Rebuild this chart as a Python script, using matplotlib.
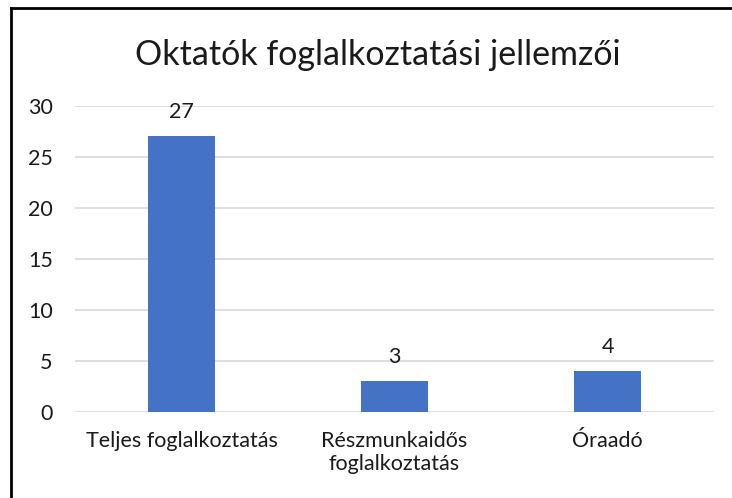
import matplotlib.pyplot as plt
from matplotlib.lines import Line2D

# adatok
categories = ['Teljes foglalkoztatás', 'Részmunkaidős\nfoglalkoztatás', 'Óraadó']
values = [27, 3, 4]
yticks = [0, 5, 10, 15, 20, 25, 30]
title = 'Oktatók foglalkoztatási jellemzői'

plt.rcParams['font.family'] = ['Lato', 'DejaVu Sans']
txt = '#1a1a1a'
fs = 15.5

fig = plt.figure(figsize=(7.32, 4.98), dpi=100)
ax = fig.add_axes([75 / 732, 1 - 411.7 / 498, 639 / 732, 306 / 498])

x = range(len(categories))
bars = ax.bar(x, values, width=0.31, color='#4472C4', zorder=3)
ax.bar_label(bars, labels=[str(v) for v in values], padding=10, fontsize=fs, color=txt)

ax.set_xlim(-0.5, 2.5)
ax.set_ylim(0, 30)
ax.set_yticks(yticks)
ax.set_xticks(list(x))
ax.set_xticklabels(categories, fontsize=fs, color=txt, linespacing=1.15)
ax.tick_params(axis='y', length=0, pad=16, labelsize=fs, labelcolor=txt)
ax.tick_params(axis='x', length=0, pad=14)
ax.grid(axis='y', color='#D9D9D9', linewidth=1.2, zorder=0)
for s in ax.spines.values():
    s.set_visible(False)

fig.text(378 / 732, 1 - 55 / 498, title, ha='center', va='center', fontsize=24.5, color=txt)

# keret vonal (bal és felső szél)
fig.add_artist(Line2D([10.5 / 732, 10.5 / 732], [0, 1 - 8 / 498], transform=fig.transFigure, color='black', lw=2))
fig.add_artist(Line2D([10.5 / 732, 1], [1 - 8 / 498, 1 - 8 / 498], transform=fig.transFigure, color='black', lw=2))

fig.savefig('out.png', dpi=100)
